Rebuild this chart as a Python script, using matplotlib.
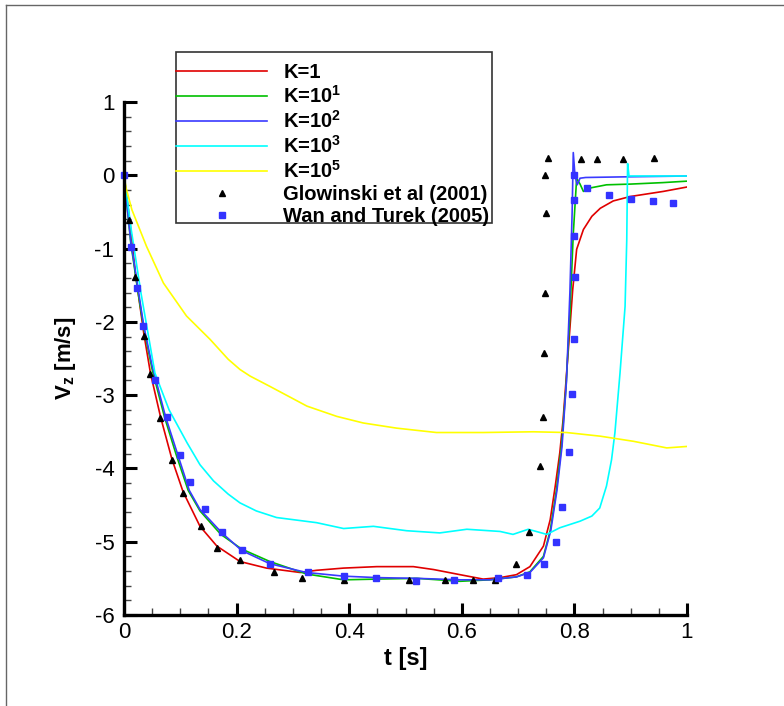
import matplotlib
matplotlib.use("Agg")
import matplotlib.pyplot as plt
from matplotlib.patches import Rectangle
from matplotlib.lines import Line2D
from matplotlib.ticker import MultipleLocator

plt.rcParams['font.family'] = ['Liberation Sans', 'DejaVu Sans']
plt.rcParams['mathtext.fontset'] = 'custom'
plt.rcParams['mathtext.rm'] = 'Liberation Sans:bold'
plt.rcParams['mathtext.it'] = 'Liberation Sans:bold'
plt.rcParams['mathtext.bf'] = 'Liberation Sans:bold'

# ---------------- data ----------------
t_k1 = [0, 0.01, 0.02, 0.035, 0.047, 0.065, 0.085, 0.105, 0.135, 0.165, 0.206, 0.253, 0.313,
        0.342, 0.39, 0.449, 0.514, 0.55, 0.597, 0.638, 0.668, 0.697, 0.721, 0.745, 0.757, 0.766,
        0.774, 0.78, 0.79, 0.797, 0.804, 0.816, 0.831, 0.846, 0.869, 0.899, 0.958, 1.0]
v_k1 = [0, -0.6, -1.32, -2.15, -2.7, -3.3, -3.87, -4.32, -4.79, -5.06, -5.27, -5.36, -5.42,
        -5.39, -5.36, -5.34, -5.34, -5.38, -5.45, -5.51, -5.49, -5.45, -5.34, -5.06, -4.7, -4.24,
        -3.79, -3.33, -2.3, -1.56, -1.01, -0.74, -0.56, -0.45, -0.35, -0.29, -0.22, -0.16]

t_k10 = [0, 0.012, 0.025, 0.035, 0.05, 0.072, 0.093, 0.114, 0.135, 0.172, 0.209, 0.259, 0.324,
         0.39, 0.45, 0.52, 0.597, 0.65, 0.697, 0.721, 0.745, 0.757, 0.768, 0.777, 0.785, 0.792,
         0.798, 0.804, 0.81, 0.816, 0.83, 0.857, 0.9, 0.957, 1.0]
v_k10 = [0, -0.92, -1.6, -2.08, -2.65, -3.3, -3.82, -4.3, -4.58, -4.9, -5.1, -5.27, -5.44,
         -5.52, -5.51, -5.5, -5.54, -5.52, -5.48, -5.41, -5.2, -4.85, -4.3, -3.7, -2.9, -1.9,
         -0.8, -0.04, -0.12, -0.22, -0.17, -0.13, -0.12, -0.10, -0.08]

t_k100 = [0, 0.012, 0.025, 0.035, 0.05, 0.074, 0.095, 0.116, 0.135, 0.174, 0.209, 0.259, 0.324,
          0.39, 0.45, 0.52, 0.597, 0.65, 0.697, 0.721, 0.745, 0.758, 0.769, 0.778, 0.786, 0.792,
          0.796, 0.798, 0.801, 0.805, 0.81, 0.82, 0.9, 1.0]
v_k100 = [0, -0.9, -1.55, -2.05, -2.6, -3.3, -3.8, -4.3, -4.56, -4.88, -5.12, -5.3, -5.42,
          -5.47, -5.49, -5.5, -5.52, -5.52, -5.48, -5.42, -5.22, -4.85, -4.3, -3.7, -2.8, -1.6,
          -0.5, 0.31, 0.0, -0.13, -0.04, -0.03, -0.02, -0.01]

t_k1000 = [0, 0.013, 0.03, 0.055, 0.08, 0.112, 0.135, 0.159, 0.185, 0.206, 0.235, 0.271, 0.342,
           0.39, 0.443, 0.502, 0.561, 0.609, 0.668, 0.691, 0.718, 0.751, 0.774, 0.81, 0.831,
           0.845, 0.857, 0.866, 0.872, 0.881, 0.89, 0.893, 0.8945, 0.897, 1.0]
v_k1000 = [0, -0.75, -1.6, -2.7, -3.2, -3.65, -3.95, -4.17, -4.35, -4.47, -4.58, -4.67, -4.74,
           -4.82, -4.79, -4.85, -4.88, -4.83, -4.86, -4.9, -4.83, -4.9, -4.81, -4.72, -4.65,
           -4.54, -4.24, -3.88, -3.51, -2.7, -1.79, -0.88, 0.16, -0.01, -0.01]

t_k1e5 = [0, 0.0036, 0.014, 0.04, 0.07, 0.111, 0.153, 0.185, 0.206, 0.224, 0.259, 0.325, 0.378,
          0.425, 0.484, 0.555, 0.638, 0.727, 0.786, 0.846, 0.905, 0.964, 1.0]
v_k1e5 = [0, -0.17, -0.47, -0.97, -1.47, -1.92, -2.24, -2.51, -2.65, -2.74, -2.88, -3.15, -3.29,
          -3.38, -3.45, -3.51, -3.51, -3.50, -3.51, -3.56, -3.63, -3.72, -3.70]

t_glow = [0.0094, 0.020, 0.035, 0.047, 0.0645, 0.085, 0.105, 0.137, 0.166, 0.206, 0.266, 0.317,
          0.391, 0.507, 0.570, 0.620, 0.659, 0.696, 0.720, 0.739, 0.745, 0.746, 0.748, 0.750,
          0.748, 0.753, 0.811, 0.841, 0.886, 0.941]
v_glow = [-0.61, -1.39, -2.19, -2.71, -3.31, -3.88, -4.34, -4.78, -5.08, -5.25, -5.42, -5.49,
          -5.52, -5.52, -5.52, -5.52, -5.52, -5.31, -4.87, -3.97, -3.30, -2.42, -1.60, -0.51,
          0.0, 0.24, 0.22, 0.22, 0.22, 0.24]

t_wan = [0, 0.012, 0.023, 0.033, 0.055, 0.076, 0.0995, 0.117, 0.143, 0.174, 0.210, 0.259, 0.326,
         0.391, 0.447, 0.519, 0.586, 0.665, 0.716, 0.746, 0.767, 0.778, 0.790, 0.796, 0.799,
         0.801, 0.799, 0.799, 0.799, 0.822, 0.861, 0.901, 0.940, 0.975]
v_wan = [0, -0.98, -1.54, -2.06, -2.80, -3.30, -3.82, -4.19, -4.55, -4.87, -5.11, -5.31, -5.42,
         -5.47, -5.49, -5.54, -5.52, -5.49, -5.46, -5.30, -5.0, -4.53, -3.78, -2.99, -2.23,
         -1.39, -0.83, -0.34, 0.01, -0.18, -0.27, -0.33, -0.345, -0.38]

labels = ['K=1', 'K=10$^{1}$', 'K=10$^{2}$', 'K=10$^{3}$', 'K=10$^{5}$',
          'Glowinski et al (2001)', 'Wan and Turek (2005)']
x_ticks = [0, 0.2, 0.4, 0.6, 0.8, 1]
x_ticklabels = ['0', '0.2', '0.4', '0.6', '0.8', '1']
y_ticks = [1, 0, -1, -2, -3, -4, -5, -6]
y_ticklabels = ['1', '0', '-1', '-2', '-3', '-4', '-5', '-6']

# ---------------- figure ----------------
W, H = 784, 706
fig = plt.figure(figsize=(W / 100, H / 100), dpi=100)
ax = fig.add_axes([124 / W, 1 - 615 / H, (687 - 124) / W, (615 - 102) / H])

lw = 1.2
ax.plot(t_k1, v_k1, color='#e00000', lw=lw, label=labels[0])
ax.plot(t_k10, v_k10, color='#00c000', lw=lw, label=labels[1])
ax.plot(t_k100, v_k100, color='#3a3aff', lw=lw, label=labels[2])
ax.plot(t_k1000, v_k1000, color='#00ffff', lw=lw, label=labels[3])
ax.plot(t_k1e5, v_k1e5, color='#ffff00', lw=lw, label=labels[4])
ax.plot(t_glow, v_glow, ls='none', marker='^', ms=5, color='black', label=labels[5], clip_on=False)
ax.plot(t_wan, v_wan, ls='none', marker='s', ms=5, color='#3333ff', label=labels[6], clip_on=False)

ax.set_xlim(0, 1)
ax.set_ylim(-6, 1)
for s in ['top', 'right']:
    ax.spines[s].set_visible(False)
for s in ['left', 'bottom']:
    ax.spines[s].set_linewidth(2.4)

ax.set_xticks(x_ticks)
ax.set_xticklabels(x_ticklabels)
ax.set_yticks(y_ticks)
ax.set_yticklabels(y_ticklabels)
ax.xaxis.set_minor_locator(MultipleLocator(0.05))
ax.yaxis.set_minor_locator(MultipleLocator(0.2))
ax.tick_params(which='major', direction='in', length=9, width=2.2, labelsize=16, pad=5)
ax.tick_params(which='minor', direction='in', length=5, width=1.0, color='#444444')
ax.tick_params(axis='y', which='major', pad=7)

ax.set_xlabel('t [s]', fontsize=17, fontweight='bold', labelpad=3)
ax.set_ylabel('V$_{z}$ [m/s]', fontsize=16, fontweight='bold', labelpad=12)

# legend frame and legend
frame = Rectangle((176 / W, 1 - 223 / H), (492 - 176) / W, (223 - 52) / H,
                  transform=fig.transFigure, facecolor='white', edgecolor='#333333',
                  lw=1.2, zorder=5, clip_on=False)
ax.add_patch(frame)
leg = ax.legend(loc='upper left', bbox_to_anchor=(176 / W, 1 - 63 / H),
                bbox_transform=fig.transFigure, frameon=False, borderpad=0, borderaxespad=0,
                handlelength=4.53, handletextpad=0.8, labelspacing=0.15,
                prop={'family': 'Liberation Sans', 'weight': 'bold', 'size': 14.5})
leg.set_zorder(6)

# figure border (top and left)
fig.add_artist(Line2D([6 / W, 6 / W], [0, 1 - 5 / H], transform=fig.transFigure,
                      color='#666666', lw=1.0))
fig.add_artist(Line2D([6 / W, 1], [1 - 5 / H, 1 - 5 / H], transform=fig.transFigure,
                      color='#666666', lw=1.0))

fig.savefig('out.png', dpi=100)
